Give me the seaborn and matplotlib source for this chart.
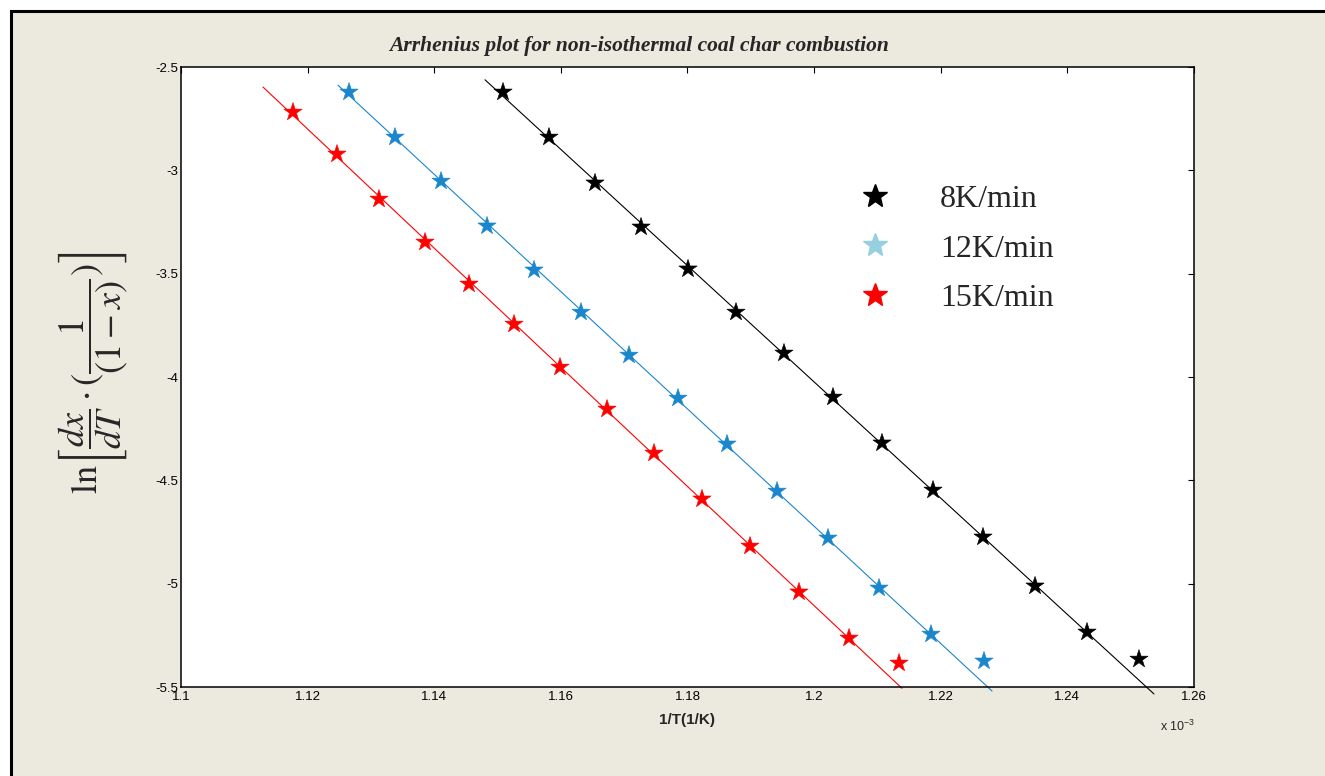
import numpy as np
import pandas as pd
import matplotlib
matplotlib.use("Agg")
import matplotlib.pyplot as plt
from matplotlib.lines import Line2D
from matplotlib.patches import Rectangle
import seaborn as sns

# 1/T values (x 10^-3, 1/K) and ln[dx/dT * 1/(1-x)] for each heating rate
x_8 = [1.15086, 1.15812, 1.16539, 1.17266, 1.18008, 1.18766, 1.19524,
       1.20298, 1.21072, 1.21878, 1.22667, 1.23489, 1.24310, 1.25131]
y_8 = [-2.621, -2.839, -3.061, -3.274, -3.477, -3.686, -3.884,
       -4.097, -4.319, -4.547, -4.774, -5.011, -5.234, -5.365]

x_12 = [1.12654, 1.13380, 1.14107, 1.14833, 1.15576, 1.16318, 1.17076,
        1.17850, 1.18624, 1.19414, 1.20219, 1.21025, 1.21846, 1.22683]
y_12 = [-2.621, -2.839, -3.052, -3.269, -3.482, -3.686, -3.894,
        -4.102, -4.324, -4.552, -4.779, -5.021, -5.244, -5.374]

x_15 = [1.11769, 1.12464, 1.13127, 1.13854, 1.14549, 1.15260, 1.15986,
        1.16729, 1.17471, 1.18229, 1.18987, 1.19761, 1.20551, 1.21341]
y_15 = [-2.718, -2.921, -3.139, -3.347, -3.550, -3.744, -3.952,
        -4.155, -4.368, -4.590, -4.818, -5.040, -5.263, -5.384]

series_names = ["8K/min", "12K/min", "15K/min"]
# x-range over which each linear fit is drawn
fit_range_8 = [1.14802, 1.25368]
fit_range_12 = [1.12480, 1.22810]
fit_range_15 = [1.11295, 1.21388]

x_ticks = [1.10, 1.12, 1.14, 1.16, 1.18, 1.20, 1.22, 1.24, 1.26]
x_tick_labels = ["1.1", "1.12", "1.14", "1.16", "1.18", "1.2", "1.22", "1.24", "1.26"]
y_ticks = [-5.5, -5.0, -4.5, -4.0, -3.5, -3.0, -2.5]
y_tick_labels = ["-5.5", "-5", "-4.5", "-4", "-3.5", "-3", "-2.5"]

point_colors = {"8K/min": "#000000", "12K/min": "#1a86cc", "15K/min": "#ff0000"}
legend_colors = {"8K/min": "#000000", "12K/min": "#96cfe0", "15K/min": "#ff0000"}

sns.set_style("white")
plt.rcParams["font.family"] = ["Liberation Sans", "DejaVu Sans"]
plt.rcParams["mathtext.fontset"] = "stix"

points = pd.concat([
    pd.DataFrame({"x": x_8, "y": y_8, "rate": series_names[0]}),
    pd.DataFrame({"x": x_12, "y": y_12, "rate": series_names[1]}),
    pd.DataFrame({"x": x_15, "y": y_15, "rate": series_names[2]}),
], ignore_index=True)

# Linear fit of each series (final, off-trend point left out of the fit)
fit_rows = []
for name, xs, ys, rng in [(series_names[0], x_8, y_8, fit_range_8),
                          (series_names[1], x_12, y_12, fit_range_12),
                          (series_names[2], x_15, y_15, fit_range_15)]:
    k, b = np.polyfit(xs[:-1], ys[:-1], 1)
    for xv in rng:
        fit_rows.append({"x": xv, "y": k * xv + b, "rate": name})
fits = pd.DataFrame(fit_rows)

fig = plt.figure(figsize=(13.25, 7.76), dpi=100, facecolor="white")

# Beige panel with dark frame
W, H = 1325.0, 776.0
fig.patches.append(Rectangle((11 / W, -0.05), 1.1, (H - 11) / H + 0.05,
                             transform=fig.transFigure, facecolor="#ece9de",
                             edgecolor="black", linewidth=2.2, zorder=-5))

ax = fig.add_axes([181 / W, 1 - 687 / H, 1013 / W, 620 / H])
ax.set_facecolor("white")

sns.lineplot(data=fits, x="x", y="y", hue="rate", palette=point_colors,
             linewidth=0.8, legend=False, ax=ax, clip_on=False, zorder=2)
sns.scatterplot(data=points, x="x", y="y", hue="rate", palette=point_colors,
                marker="*", s=190, edgecolor="face", linewidth=0.4,
                legend=False, ax=ax, zorder=3)

ax.set_xlim(1.10, 1.26)
ax.set_ylim(-5.5, -2.5)
ax.set_xticks(x_ticks)
ax.set_xticklabels(x_tick_labels)
ax.set_yticks(y_ticks)
ax.set_yticklabels(y_tick_labels)
ax.tick_params(direction="in", length=4, width=0.8, labelsize=9.5,
               top=True, right=True, pad=2, colors="black")
ax.tick_params(axis="x", pad=3)
for sp in ax.spines.values():
    sp.set_visible(True)
    sp.set_color("black")
    sp.set_linewidth(1.1)

ax.set_xlabel("1/T(1/K)", fontsize=11, fontweight="bold", labelpad=7)
ax.set_ylabel("")

fig.text(1160 / W, 1 - 731 / H, r"x 10$^{\mathregular{-3}}$", fontsize=9,
         ha="left", va="baseline")

fig.text(639 / W, 1 - 51 / H, "Arrhenius plot for non-isothermal coal char combustion",
         family=["Liberation Serif"], fontsize=15.5, fontweight="bold",
         fontstyle="italic", ha="center", va="baseline", zorder=-1)

fig.text(93 / W, 1 - 373 / H,
         r"$\mathrm{ln}\left[\dfrac{dx}{dT}\cdot(\dfrac{1}{(1-x)})\right]$",
         fontsize=26, rotation=90, ha="center", va="center")

handles = [Line2D([], [], marker="*", ls="", color=legend_colors[n],
                  markersize=18) for n in series_names]
ax.legend(handles, series_names, loc="upper left",
          bbox_to_anchor=((859 - 181) / 1013, (687 - 185) / 620),
          frameon=False, borderpad=0, borderaxespad=0, handlelength=1.0,
          handletextpad=1.53, labelspacing=0.62,
          prop={"family": "Liberation Serif", "size": 23})

fig.savefig("out.png", dpi=100, facecolor="white")
